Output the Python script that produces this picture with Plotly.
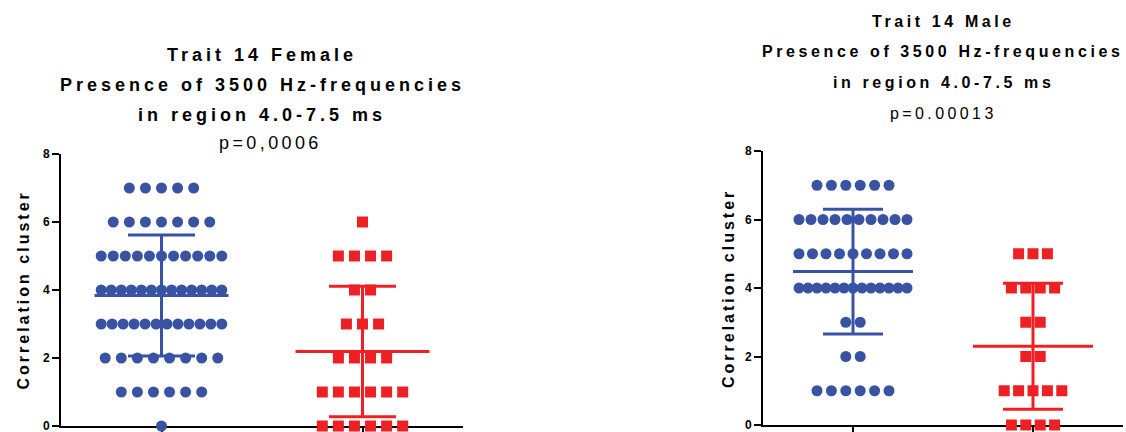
import numpy as np
import plotly.graph_objects as go

# ---------------- data ----------------
levels = [0, 1, 2, 3, 4, 5, 6, 7]
female_blue_counts = [1, 6, 8, 12, 13, 11, 7, 5]
female_red_counts = [6, 6, 4, 3, 2, 4, 1, 0]
male_blue_counts = [0, 6, 2, 2, 13, 9, 10, 6]
male_red_counts = [4, 5, 2, 2, 4, 3, 0, 0]

female_title = ["Trait 14 Female", "Presence of 3500 Hz-frequencies", "in region 4.0-7.5 ms"]
female_p = "p=0,0006"
male_title = ["Trait 14 Male", "Presence of 3500 Hz-frequencies", "in region 4.0-7.5 ms"]
male_p = "p=0.00013"
y_title = "Correlation cluster"
y_ticks = [0, 2, 4, 6, 8]

BLUE = "#3953A4"
RED = "#ED2024"
FONT = "Arial, Liberation Sans, sans-serif"
W, H = 1126, 432


def swarm(counts, center, max_step=0.08, max_width=0.6):
    xs, ys = [], []
    for lv, n in zip(levels, counts):
        if n == 0:
            continue
        step = max_step if n == 1 else min(max_step, max_width / (n - 1))
        off = (np.arange(n) - (n - 1) / 2) * step
        xs.extend(center + off)
        ys.extend([lv] * n)
    return xs, ys


def errbar(counts, center):
    vals = np.repeat(levels, counts).astype(float)
    m = vals.mean()
    sd = vals.std(ddof=1)
    xs = [center - 1 / 3, center + 1 / 3, None,
          center, center, None,
          center - 1 / 6, center + 1 / 6, None,
          center - 1 / 6, center + 1 / 6]
    ys = [m, m, None, m - sd, m + sd, None, m + sd, m + sd, None, m - sd, m - sd]
    return xs, ys


fig = go.Figure()

panels = [
    ("x", "y", female_blue_counts, female_red_counts),
    ("x2", "y2", male_blue_counts, male_red_counts),
]
for xa, ya, bc, rc in panels:
    for counts, center, color, sym in [(bc, 0, BLUE, "circle"), (rc, 1, RED, "square")]:
        xs, ys = swarm(counts, center)
        fig.add_trace(go.Scatter(
            x=xs, y=ys, mode="markers", xaxis=xa, yaxis=ya, cliponaxis=False,
            marker=dict(symbol=sym, size=11, color=color, line=dict(width=0)),
            showlegend=False, hoverinfo="skip"))
    for counts, center, color in [(bc, 0, BLUE), (rc, 1, RED)]:
        ex, ey = errbar(counts, center)
        fig.add_trace(go.Scatter(
            x=ex, y=ey, mode="lines", xaxis=xa, yaxis=ya, cliponaxis=False,
            line=dict(color=color, width=3), showlegend=False, hoverinfo="skip"))

# domains in pixels
L_x = (61, 463)
L_y = (154, 426)
R_x = (763, 1123)
R_y = (151, 425)


def xdom(p):
    return [p[0] / W, p[1] / W]


def ydom(p):
    return [1 - p[1] / H, 1 - p[0] / H]


common_x = dict(range=[-0.5, 1.5], showline=True, linewidth=2, linecolor="black",
                ticks="outside", tickvals=[0, 1], ticklen=6, tickwidth=2, tickcolor="black",
                showticklabels=False, showgrid=False, zeroline=False, layer="below traces",
                fixedrange=True, automargin=False)
common_y = dict(range=[0, 8], showline=True, linewidth=2, linecolor="black",
                ticks="outside", tickvals=y_ticks, ticklen=7, tickwidth=2, tickcolor="black",
                tickfont=dict(family=FONT, size=12, color="black", weight="bold"),
                ticklabeloverflow="allow",
                showgrid=False, zeroline=False, layer="below traces", fixedrange=True,
                automargin=False)

fig.update_layout(
    width=W, height=H, autosize=False,
    margin=dict(l=0, r=0, t=0, b=0, pad=0, autoexpand=False),
    paper_bgcolor="white", plot_bgcolor="white",
    xaxis=dict(domain=xdom(L_x), anchor="y", **common_x),
    yaxis=dict(domain=ydom(L_y), anchor="x", **common_y),
    xaxis2=dict(domain=xdom(R_x), anchor="y2", **common_x),
    yaxis2=dict(domain=ydom(R_y), anchor="x2", **common_y),
)


def spaced(text, sp):
    return '<span style="letter-spacing:%spx">%s</span>' % (sp, text)


def add_text(text, px, py, size, sp, bold=True, angle=0):
    fig.add_annotation(
        text=spaced(text, sp), x=px / W, y=1 - py / H, xref="paper", yref="paper",
        xanchor="center", yanchor="middle", showarrow=False, textangle=angle,
        font=dict(family=FONT, size=size, color="black", weight="bold" if bold else "normal"))


# left titles
for t, py in zip(female_title, [54.5, 85, 115]):
    add_text(t, 262, py, 18, 4)
add_text(female_p, 270, 143, 18, 3.4, bold=False)
# right titles
for t, py in zip(male_title, [21.5, 51, 82]):
    add_text(t, 943, py, 16, 3.6)
add_text(male_p, 943, 113, 16, 3.4, bold=False)

# y-axis titles
add_text(y_title, 22.5, 290, 16, 3, angle=-90)
add_text(y_title, 728, 289, 16, 3, angle=-90)

fig.write_html("out.html", config={"responsive": False, "displayModeBar": False})
